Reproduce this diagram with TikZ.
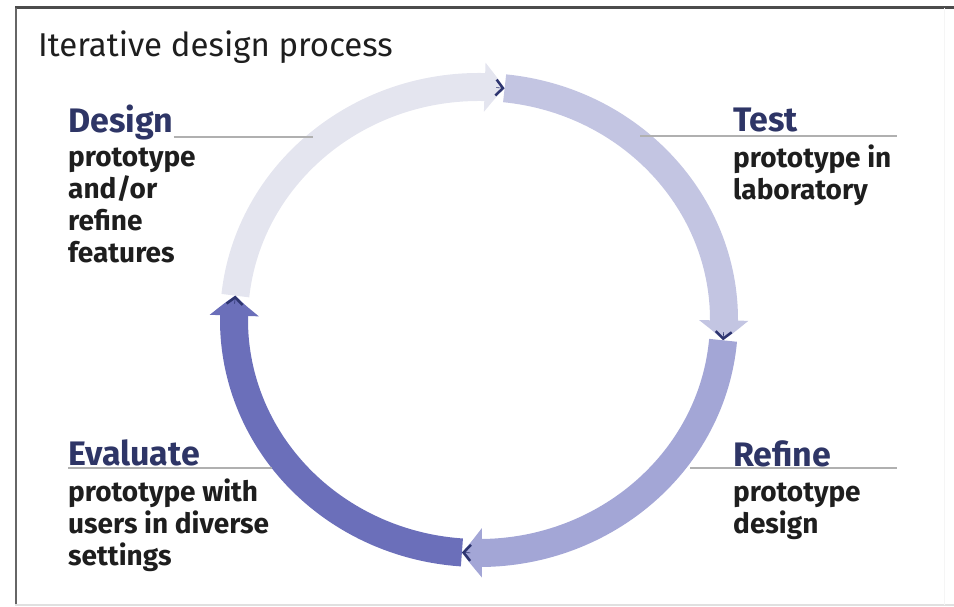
\documentclass[tikz,border=0pt]{standalone}
\usepackage{fontspec}
\setmainfont{Fira Sans}
\usetikzlibrary{arrows.meta,bending}
\definecolor{cDes}{HTML}{E4E5EF}
\definecolor{cTest}{HTML}{C3C5E2}
\definecolor{cRef}{HTML}{A3A6D6}
\definecolor{cEval}{HTML}{6B6FBA}
\definecolor{cTip}{HTML}{2E3570}
\definecolor{cHead}{HTML}{2E3566}
\definecolor{cBody}{HTML}{1E1E1E}
\definecolor{cLead}{HTML}{B0B0B0}
\begin{document}
\begin{tikzpicture}[x=1pt, y=1pt,
  seg/.style={line width=28pt, -{Triangle[width=48pt, length=20pt, bend]}},
  chev/.style={draw=cTip, line width=.6pt, -{Straight Barb[length=7pt, width=16pt, line width=2.5pt]}},
  head/.style={font=\fontsize{34}{34}\selectfont\bfseries, text=cHead, inner sep=0pt},
  body/.style={font=\fontsize{28}{32}\selectfont\bfseries, text=cBody, align=left, inner sep=0pt},
  leader/.style={draw=cLead, line width=1.5pt}]
\useasboundingbox (0,0) rectangle (954,-607);
% frame
\draw[line width=3pt, black!70] (15,-8)--(954,-8);
\draw[line width=2pt, black!60] (16,-8)--(16,-605);
\draw[line width=1.5pt, black!12] (15,-605)--(954,-605);
\draw[line width=1pt, black!4] (944,-8)--(944,-605);
\node[anchor=base west, inner sep=0pt, font=\fontsize{33}{33}\selectfont, text=cBody] (title) at (38,-57) {Iterative design process};
% ring
\coordinate (c) at (479,-320);
\draw[seg, draw=cTest] ([shift={(84:245 and 233)}]c) arc[start angle=84, end angle=-5, x radius=245, y radius=233];
\draw[seg, draw=cRef] ([shift={(-5:245 and 233)}]c) arc[start angle=-5, end angle=-94, x radius=245, y radius=233];
\draw[seg, draw=cEval] ([shift={(-94:245 and 233)}]c) arc[start angle=-94, end angle=-186, x radius=245, y radius=233];
\draw[seg, draw=cDes] ([shift={(174:245 and 233)}]c) arc[start angle=174, end angle=84, x radius=245, y radius=233];
\foreach \a in {84,-5,-94,174}
  \draw[chev] ([shift={(\a+2:245 and 233)}]c) -- ([shift={(\a:245 and 233)}]c);
% labels (body nodes sit on their last baseline)
\node[head, anchor=base west] (design) at (68,-133) {Design};
\node[body, anchor=base west] (designtxt) at (68,-262) {prototype\\and/or\\refine\\features};
\node[head, anchor=base west] (test) at (733,-132) {Test};
\node[body, anchor=base west] (testtxt) at (733,-200) {prototype in\\laboratory};
\node[head, anchor=base west] (evaluate) at (68,-465) {Evaluate};
\node[body, anchor=base west] (evaltxt) at (68,-565) {prototype with\\users in diverse\\settings};
\node[head, anchor=base west] (refine) at (733,-466) {Refine};
\node[body, anchor=base west] (refinetxt) at (733,-533) {prototype\\design};
% leaders
\coordinate (dl) at (313,-137);
\coordinate (tl) at (640,-136);
\coordinate (rl) at (690,-468);
\coordinate (el) at (272,-468);
\draw[leader] (design.east |- dl) -- (dl);
\draw[leader] (tl) -- (tl -| 897,0);
\draw[leader] (rl) -- (rl -| 897,0);
\draw[leader] (evaluate.west |- el) -- (el);
\end{tikzpicture}
\end{document}
